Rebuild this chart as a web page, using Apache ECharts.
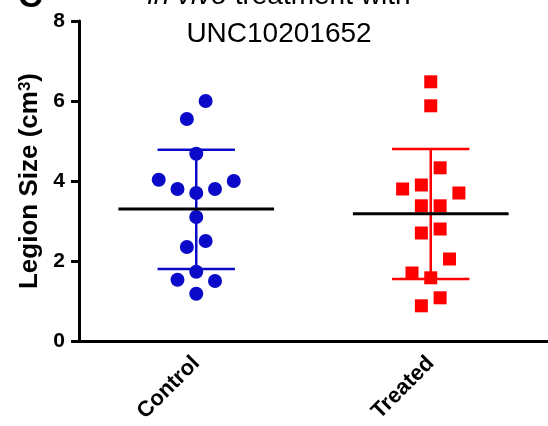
<!DOCTYPE html>
<html>
<head>
<meta charset="utf-8">
<title>Legion size</title>
<script src="https://cdn.jsdelivr.net/npm/echarts@6/dist/echarts.min.js"></script>
<style>
    html, body { margin: 0; padding: 0; background: #fff; }
    #chart { width: 548px; height: 426px; }
</style>
</head>
<body>
<div id="chart"></div>
<script>
    var groups = ['Control', 'Treated'];
    var groupColors = ['#0a0ac8', '#ff0000'];

    // individual animals, value and horizontal spread (in category units)
    var controlValues  = [6.0, 5.55, 4.68, 4.03, 4.0, 3.8, 3.8, 3.7, 3.1, 2.5, 2.35, 1.73, 1.53, 1.5, 1.18];
    var controlSpread  = [0.04, -0.04, 0, -0.16, 0.16, -0.08, 0.08, 0, 0, 0.04, -0.04, 0, -0.08, 0.08, 0];
    var treatedValues  = [6.48, 5.88, 4.33, 3.8, 3.9, 3.7, 3.38, 3.38, 2.7, 2.8, 2.05, 1.7, 1.58, 1.08, 0.88];
    var treatedSpread  = [0, 0, 0.04, -0.12, -0.04, 0.12, -0.04, 0.04, -0.04, 0.04, 0.08, -0.08, 0, 0.04, -0.04];

    // mean and mean +/- SD
    var groupMean  = [3.3, 3.18];
    var groupLower = [1.8, 1.55];
    var groupUpper = [4.78, 4.8];

    var yTicks = [0, 2, 4, 6, 8];

    var font = 'Liberation Sans, Arial, sans-serif';

    function errorBar(params, api) {
        var x = api.value(0);
        var lo = api.coord([x, api.value(1)]);
        var hi = api.coord([x, api.value(2)]);
        var half = api.size([0.165, 0])[0];
        var style = { stroke: groupColors[params.dataIndex], lineWidth: 2.5 };
        return {
            type: 'group',
            children: [
                { type: 'line', shape: { x1: lo[0], y1: lo[1], x2: hi[0], y2: hi[1] }, style: style },
                { type: 'line', shape: { x1: hi[0] - half, y1: hi[1], x2: hi[0] + half, y2: hi[1] }, style: style },
                { type: 'line', shape: { x1: lo[0] - half, y1: lo[1], x2: lo[0] + half, y2: lo[1] }, style: style }
            ]
        };
    }

    function meanLine(params, api) {
        var p = api.coord([api.value(0), api.value(1)]);
        var half = api.size([0.332, 0])[0];
        return {
            type: 'line',
            shape: { x1: p[0] - half, y1: p[1], x2: p[0] + half, y2: p[1] },
            style: { stroke: '#000', lineWidth: 3 }
        };
    }

    var chart = echarts.init(document.getElementById('chart'));
    var option = {
        animation: false,
        backgroundColor: '#fff',
        title: [
            {
                text: 'UNC10201652',
                left: 274, top: 15, textAlign: 'center',
                textStyle: { fontFamily: font, fontSize: 28, fontWeight: 'normal', color: '#000' }
            },
            {
                text: '{i|in vivo}{n| treatment with}',
                left: 274, top: -23, textAlign: 'center',
                textStyle: {
                    rich: {
                        i: { fontFamily: font, fontSize: 28, fontStyle: 'italic', fontWeight: 'normal', color: '#000' },
                        n: { fontFamily: font, fontSize: 28, fontWeight: 'normal', color: '#000' }
                    }
                }
            },
            {
                text: 'C',
                left: 13, top: -24,
                textStyle: { fontFamily: font, fontSize: 34, fontWeight: 'bold', color: '#000' }
            }
        ],
        grid: { left: 79, top: 21, bottom: 85, right: -8.5 },
        xAxis: [
            {
                type: 'category',
                data: groups,
                axisLine: { lineStyle: { color: '#000', width: 3 } },
                axisTick: { alignWithLabel: true, length: 8, lineStyle: { color: '#000', width: 3 } },
                axisLabel: {
                    rotate: 45, margin: 19, color: '#000',
                    fontFamily: font, fontSize: 22, fontWeight: 'bold'
                }
            },
            { type: 'value', min: -0.5, max: 1.5, show: false }
        ],
        yAxis: {
            type: 'value',
            min: yTicks[0], max: yTicks[yTicks.length - 1], interval: 2,
            name: '{a|Legion Size (cm}{s|3}{a|)}',
            nameLocation: 'middle', nameRotate: 90, nameGap: 36,
            nameTextStyle: {
                rich: {
                    a: { fontFamily: font, fontSize: 26, fontWeight: 'bold', color: '#000' },
                    s: { fontFamily: font, fontSize: 17, fontWeight: 'bold', color: '#000', verticalAlign: 'top' }
                }
            },
            splitLine: { show: false },
            axisLine: { show: true, onZero: false, lineStyle: { color: '#000', width: 3 } },
            axisTick: { show: true, length: 8, lineStyle: { color: '#000', width: 3 } },
            axisLabel: { margin: 14, color: '#000', fontFamily: font, fontSize: 21, fontWeight: 'bold' }
        },
        series: [
            {
                type: 'custom', xAxisIndex: 1, z: 2,
                renderItem: errorBar,
                data: groups.map(function (g, i) { return [i, groupLower[i], groupUpper[i]]; })
            },
            {
                name: 'Control', type: 'scatter', xAxisIndex: 1, z: 3,
                symbol: 'circle', symbolSize: 14,
                itemStyle: { color: groupColors[0], opacity: 1 },
                data: controlValues.map(function (v, i) { return [controlSpread[i], v]; })
            },
            {
                name: 'Treated', type: 'scatter', xAxisIndex: 1, z: 3,
                symbol: 'rect', symbolSize: 13,
                itemStyle: { color: groupColors[1], opacity: 1 },
                data: treatedValues.map(function (v, i) { return [1 + treatedSpread[i], v]; })
            },
            {
                type: 'custom', xAxisIndex: 1, z: 4,
                renderItem: meanLine,
                data: groups.map(function (g, i) { return [i, groupMean[i]]; })
            }
        ]
    };
    chart.setOption(option);
</script>
</body>
</html>
